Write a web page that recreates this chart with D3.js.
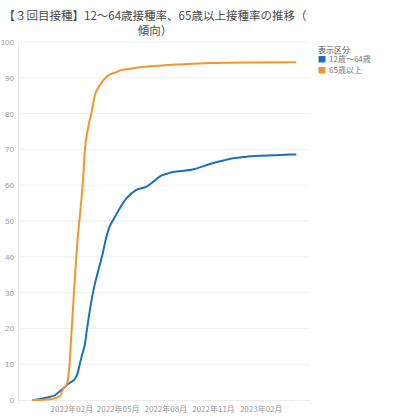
<!DOCTYPE html>
<html><head><meta charset="utf-8">
<script src="https://cdn.jsdelivr.net/npm/d3@7"></script>
<style>
html,body{margin:0;padding:0;background:#fff;}
svg{display:block;font-family:"Noto Sans CJK JP","Noto Sans",sans-serif;}
</style></head>
<body>
<svg id="c" width="400" height="418"></svg>
<script>
const titleLines = ["【３回目接種】12～64歳接種率、65歳以上接種率の推移（", "傾向）"];
const legendTitle = "表示区分";
const seriesNames = ["12歳～64歳", "65歳以上"];
const seriesColors = ["#1a70bf", "#f2962c"];
const yTicks = [0,10,20,30,40,50,60,70,80,90,100];
const xTickLabels = ["2022-02-01","2022-05-01","2022-08-01","2022-11-01","2023-02-01"];

const datesYoung = ["2021-11-18","2021-12-02","2021-12-21","2021-12-31","2022-01-09","2022-01-16","2022-01-22","2022-01-30","2022-02-07","2022-02-12","2022-02-16","2022-02-21","2022-02-26","2022-03-02","2022-03-07","2022-03-12","2022-03-17","2022-03-22","2022-03-27","2022-04-01","2022-04-05","2022-04-10","2022-04-15","2022-04-20","2022-04-25","2022-05-04","2022-05-17","2022-06-05","2022-06-25","2022-07-08","2022-07-20","2022-08-05","2022-08-21","2022-09-22","2022-10-25","2022-11-20","2022-12-09","2023-01-01","2023-01-29","2023-03-01","2023-04-08"];
const valuesYoung = [0,0.3,0.9,1.4,2.5,3.3,4.2,5.0,6.0,7.5,10.0,12.8,15.6,19.8,24.6,28.8,32.3,35.2,37.9,40.7,43.4,46.4,48.6,49.9,51.2,53.5,56.3,58.7,59.6,61.0,62.4,63.3,63.8,64.4,65.9,66.9,67.5,67.9,68.2,68.4,68.6];

const datesOld = ["2021-11-18","2021-12-10","2021-12-25","2022-01-08","2022-01-16","2022-01-22","2022-01-27","2022-01-31","2022-02-04","2022-02-08","2022-02-13","2022-02-17","2022-02-20","2022-02-23","2022-02-26","2022-03-04","2022-03-11","2022-03-17","2022-03-27","2022-04-09","2022-04-15","2022-04-28","2022-05-04","2022-05-17","2022-06-05","2022-07-20","2022-08-21","2022-09-22","2022-10-25","2022-11-26","2023-01-29","2023-04-08"];
const valuesOld = [0,0.1,0.3,1.0,3.3,4.4,9.3,18.5,28,37,46.6,52.5,57,63,70,75.9,80.5,85,88,90.3,90.9,91.6,92.0,92.4,92.8,93.4,93.7,93.9,94.1,94.2,94.3,94.35];

const parse = d3.timeParse("%Y-%m-%d");
const series = [
  {name: seriesNames[0], color: seriesColors[0], pts: datesYoung.map((d,i)=>({date:parse(d), v:valuesYoung[i]}))},
  {name: seriesNames[1], color: seriesColors[1], pts: datesOld.map((d,i)=>({date:parse(d), v:valuesOld[i]}))}
];

const svg = d3.select("#c");
const pLeft = 18, pRight = 310, pTop = 42, pBottom = 400;

const x = d3.scaleTime().domain([parse("2021-10-20"), parse("2023-05-06")]).range([pLeft, pRight]);
const y = d3.scaleLinear().domain([0,100]).range([pBottom, pTop]);

// title
svg.append("g").selectAll("text").data(titleLines).join("text")
  .attr("x", 155).attr("y", (d,i)=>19.5 + i*15.5)
  .attr("text-anchor","middle")
  .attr("font-size", 11.5).attr("fill","#4a4a4a")
  .text(d=>d);

// gridlines
svg.append("g").selectAll("line").data(yTicks.filter(t=>t>0)).join("line")
  .attr("x1", pLeft).attr("x2", pRight)
  .attr("y1", d=>y(d)).attr("y2", d=>y(d))
  .attr("stroke","#f0f0f0").attr("stroke-width",1);

// y axis
const yAxis = d3.axisLeft(y).tickValues(yTicks).tickSize(0).tickPadding(4);
const gy = svg.append("g").attr("transform",`translate(${pLeft},0)`).call(yAxis);
gy.select(".domain").attr("stroke","#ececec");
gy.selectAll("text").attr("font-size",8).attr("fill","#999").attr("font-family","'Liberation Sans',Arial,sans-serif");

// x axis
const xAxis = d3.axisBottom(x).ticks(d3.timeMonth.every(1)).tickSize(3).tickFormat("");
const gx = svg.append("g").attr("transform",`translate(0,${pBottom})`).call(xAxis);
gx.select(".domain").attr("stroke","#ececec");
gx.selectAll(".tick line").attr("stroke","#eeeeee");
const fmt = d3.timeFormat("%Y年%m月");
svg.append("g").selectAll("text").data(xTickLabels.map(parse)).join("text")
  .attr("x", d=>x(d)).attr("y", 412)
  .attr("text-anchor","middle").attr("font-size",8).attr("fill","#999")
  .text(d=>fmt(d));

// lines
const line = d3.line().x(d=>x(d.date)).y(d=>y(d.v)).curve(d3.curveMonotoneX);
svg.append("g").selectAll("path").data(series).join("path")
  .attr("d", d=>line(d.pts))
  .attr("fill","none").attr("stroke", d=>d.color)
  .attr("stroke-width", 2).attr("stroke-linejoin","round").attr("stroke-linecap","round");

// legend
const lg = svg.append("g").attr("transform","translate(318,0)");
lg.append("text").attr("x",0).attr("y",52.5).attr("font-size",8).attr("fill","#555").text(legendTitle);
const items = lg.selectAll("g.item").data(series).join("g").attr("class","item")
  .attr("transform",(d,i)=>`translate(0,${56 + i*11})`);
items.append("rect").attr("x",0.5).attr("y",0).attr("width",7).attr("height",6.5).attr("fill",d=>d.color);
items.append("text").attr("x",11).attr("y",6.3).attr("font-size",8).attr("fill","#777").text(d=>d.name);
</script>
</body></html>
